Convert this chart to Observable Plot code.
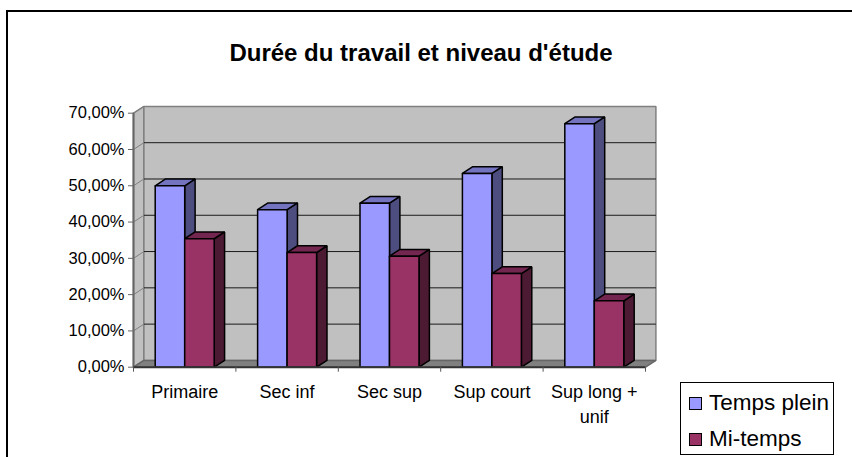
<!DOCTYPE html>
<html><head><meta charset="utf-8">
<script src="https://cdn.jsdelivr.net/npm/d3@7"></script>
<script src="https://cdn.jsdelivr.net/npm/@observablehq/plot@0.6"></script>
<style>
html,body{margin:0;padding:0;background:#fff;overflow:hidden;width:852px;height:457px}
#wrap{position:relative;width:852px;height:457px;overflow:hidden;font-family:"Liberation Sans",Arial,sans-serif;color:#000}
#frame{position:absolute;left:6px;top:10px;width:900px;height:500px;border:2px solid #000;box-sizing:border-box}
#title{position:absolute;left:0;top:41px;width:842px;text-align:center;font-weight:bold;font-size:24px;line-height:24px}
#chart{position:absolute;left:0;top:0}
#legend{position:absolute;left:680px;top:382px;width:154px;height:73px;border:1px solid #000;box-sizing:border-box;background:#fff}
.k{position:absolute;left:8px;width:13px;height:13px;border:1px solid #000;box-sizing:border-box}
.t{position:absolute;left:28px;font-size:22.5px;line-height:24px;white-space:nowrap}
</style></head><body>
<div id="wrap"><div id="frame"></div><div id="chart"></div>
<div id="title">Durée du travail et niveau d'étude</div>
<div id="legend"></div></div>
<script>
const categories = ["Primaire","Sec inf","Sec sup","Sup court","Sup long +\nunif"];
const seriesNames = ["Temps plein","Mi-temps"];
const tempsPlein = [0.50,0.434,0.452,0.534,0.671];
const miTemps = [0.354,0.316,0.306,0.258,0.183];
const yTicks = [0,0.1,0.2,0.3,0.4,0.5,0.6,0.7];
const colors = {front:["#9999ff","#993366"],top:["#7373c0","#732650"],side:["#4d4d80","#4d1a33"]};

// oblique depth of the 3D view, in data units
const dx = 0.1016, dy = 0.0187, barW = 0.288;
const fmt = v => d3.format(".2f")(v*100).replace(".",",")+"%";

const face = {front:[[],[]],top:[[],[]],side:[[],[]]};
[tempsPlein,miTemps].forEach((vals,s)=>vals.forEach((v,i)=>{
  const x0 = i+0.5+(s-1)*barW, x1 = x0+barW;
  const push=(f,pts)=>[...pts,pts[0]].forEach(([x,y])=>face[f][s].push({id:i,x,y}));
  push("front",[[x0,0],[x1,0],[x1,v],[x0,v]]);
  push("top",[[x0,v],[x1,v],[x1+dx,v+dy],[x0+dx,v+dy]]);
  push("side",[[x1,0],[x1+dx,dy],[x1+dx,v+dy],[x1,v]]);
}));
const poly=(pts,o)=>Plot.line(pts,{x:"x",y:"y",z:"id",curve:"linear",strokeLinejoin:"miter",...o});
const P=(...pts)=>pts.map(([x,y])=>({id:0,x,y}));
const yMax=0.7;

const marks=[
  poly(P([0,0],[dx,dy],[dx,yMax+dy],[0,yMax],[0,0]),{fill:"#c0c0c0",stroke:"#808080"}),
  poly(P([dx,dy],[5+dx,dy],[5+dx,yMax+dy],[dx,yMax+dy],[dx,dy]),{fill:"#c0c0c0",stroke:"#808080",strokeWidth:1.5}),
  poly(P([0,0],[5,0],[5+dx,dy],[dx,dy],[0,0]),{fill:"#808080",stroke:"#666"}),
  Plot.link(yTicks.slice(1,-1),{x1:dx,x2:5+dx,y1:v=>v+dy,y2:v=>v+dy,stroke:"#1a1a1a"}),
  Plot.link(yTicks.slice(1),{x1:0,x2:dx,y1:v=>v,y2:v=>v+dy,stroke:"#808080"}),
];
[0,1].forEach(s=>{
  marks.push(poly(face.side[s],{fill:colors.side[s],stroke:"#000"}));
  marks.push(poly(face.top[s],{fill:colors.top[s],stroke:"#000"}));
  marks.push(poly(face.front[s],{fill:colors.front[s],stroke:"#000"}));
});
marks.push(
  Plot.ruleX([0],{y1:0,y2:yMax,stroke:"#666",strokeWidth:2}),
  Plot.ruleY([0],{x1:0,x2:5,stroke:"#333",strokeWidth:2}),
  Plot.axisY({anchor:"left",ticks:yTicks,tickFormat:()=>"",tickSize:5,label:null,stroke:"#666"}),
  Plot.text(yTicks,{x:0,y:v=>v,text:fmt,dx:-9,textAnchor:"end",fontSize:16.5,fill:"#000"}),
  Plot.axisX({anchor:"bottom",ticks:[0,1,2,3,4,5],tickFormat:()=>"",tickSize:5,label:null,stroke:"#555"}),
  Plot.text(categories,{x:(d,i)=>i+0.5,y:0,dy:13,lineAnchor:"top",textAnchor:"middle",fontSize:18,fill:"#000",lineHeight:1.4})
);
const plot=Plot.plot({
  width:852,height:457,marginLeft:133,marginRight:207,marginTop:112.7,marginBottom:90.3,
  x:{domain:[0,5]},y:{domain:[0,yMax]},
  style:{fontFamily:'"Liberation Sans",Arial,sans-serif',background:"transparent",overflow:"visible"},
  marks
});
document.getElementById("chart").append(plot);
const lg=document.getElementById("legend");
seriesNames.forEach((n,i)=>{
  const k=document.createElement("div");k.className="k";k.style.top=(14+i*36)+"px";k.style.background=colors.front[i];lg.append(k);
  const t=document.createElement("div");t.className="t";t.style.top=(8+i*36)+"px";t.textContent=n;lg.append(t);
});
</script></body></html>
